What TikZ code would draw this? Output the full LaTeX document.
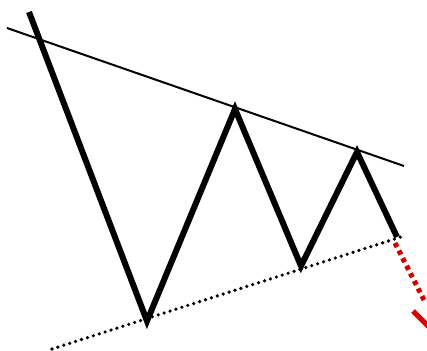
\documentclass[tikz,border=0pt]{standalone}
\begin{document}
\begin{tikzpicture}[x=1pt,y=-1pt,
  zig/.style={line width=6pt,line join=miter,line cap=butt,black},
  trendline/.style={line width=2pt,black},
  support/.style={line width=3.6pt,black,dash pattern=on 0pt off 6.2pt,line cap=round},
  breakout/.style={line width=5pt,red!80!black,dash pattern=on 4.5pt off 4pt}]
\useasboundingbox (0,0) rectangle (427,350);
\clip (0,0) rectangle (427,350);
\coordinate (p0) at (29,12);
\coordinate (p1) at (147,321);
\coordinate (p2) at (235,109);
\coordinate (p3) at (301,266);
\coordinate (p4) at (357,152);
\coordinate (p5) at (397,237);
\coordinate (t0) at (7,28);
\coordinate (t1) at (404,166);
\coordinate (s0) at (52,349);
\coordinate (s1) at (404,236);
\coordinate (r0) at (395,243);
\coordinate (r1) at (424,300);
\coordinate (w0) at (413,311);
\coordinate (w1) at (442,340);
\draw[trendline] (t0) -- (t1);
\draw[support] (s0) -- (s1);
\draw[zig] (p0) -- (p1) -- (p2) -- (p3) -- (p4) -- (p5);
\draw[breakout] (r0) -- (r1);
\draw[line width=5pt,red!85!black] (w0) -- (w1);
\end{tikzpicture}
\end{document}
